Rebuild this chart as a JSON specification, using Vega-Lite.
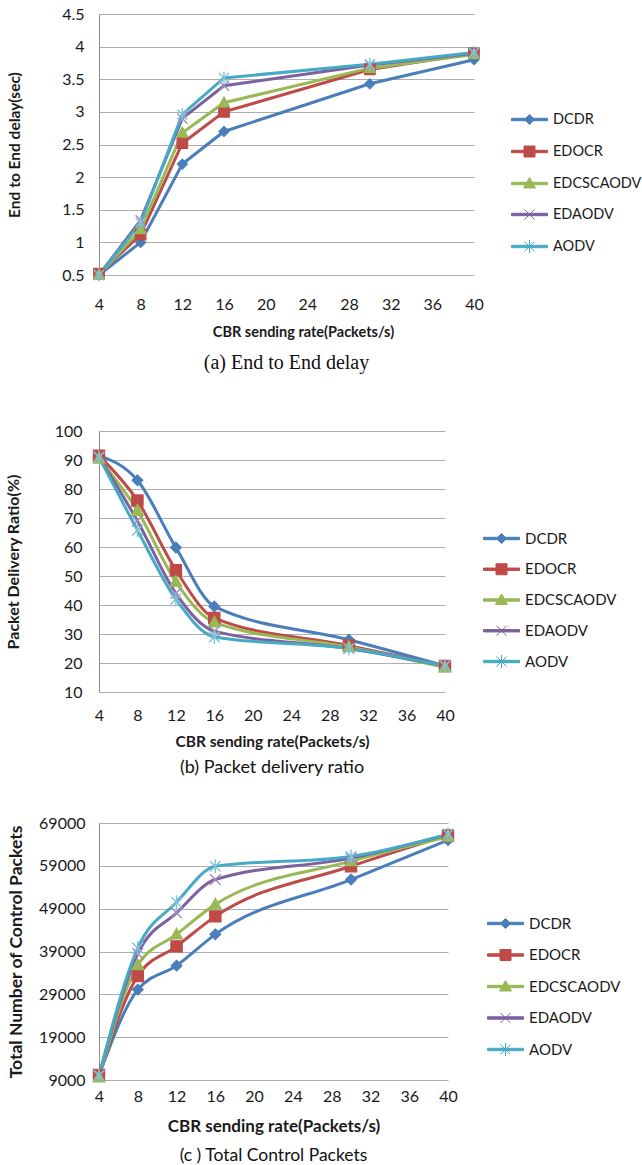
{
  "$schema": "https://vega.github.io/schema/vega-lite/v6.json",
  "background": "white",
  "padding": {"left": 5, "top": 6, "right": 0, "bottom": 0},
  "spacing": 38,
  "config": {
    "view": {"stroke": null},
    "font": "Lato",
    "axis": {"labelFont": "Lato", "titleFont": "Lato", "labelColor": "#1a1a1a", "titleColor": "#1a1a1a", "labelFontSize": 16, "ticks": false, "tickSize": 0, "titleFontWeight": "bold"},
    "legend": {"labelFont": "Lato", "labelColor": "#1a1a1a", "padding": 0, "symbolSize": 400, "title": null}
  },
  "resolve": {
    "scale": {"color": "independent"},
    "legend": {"color": "independent"}
  },
  "datasets": {
    "delay": [
      {"rate": 4, "series": "DCDR", "value": 0.5}, {"rate": 8, "series": "DCDR", "value": 1.0}, {"rate": 12, "series": "DCDR", "value": 2.2}, {"rate": 16, "series": "DCDR", "value": 2.7}, {"rate": 30, "series": "DCDR", "value": 3.43}, {"rate": 40, "series": "DCDR", "value": 3.8},
      {"rate": 4, "series": "EDOCR", "value": 0.52}, {"rate": 8, "series": "EDOCR", "value": 1.12}, {"rate": 12, "series": "EDOCR", "value": 2.52}, {"rate": 16, "series": "EDOCR", "value": 3.0}, {"rate": 30, "series": "EDOCR", "value": 3.65}, {"rate": 40, "series": "EDOCR", "value": 3.9},
      {"rate": 4, "series": "EDCSCAODV", "value": 0.5}, {"rate": 8, "series": "EDCSCAODV", "value": 1.2}, {"rate": 12, "series": "EDCSCAODV", "value": 2.68}, {"rate": 16, "series": "EDCSCAODV", "value": 3.14}, {"rate": 30, "series": "EDCSCAODV", "value": 3.67}, {"rate": 40, "series": "EDCSCAODV", "value": 3.88},
      {"rate": 4, "series": "EDAODV", "value": 0.5}, {"rate": 8, "series": "EDAODV", "value": 1.34}, {"rate": 12, "series": "EDAODV", "value": 2.9}, {"rate": 16, "series": "EDAODV", "value": 3.4}, {"rate": 30, "series": "EDAODV", "value": 3.72}, {"rate": 40, "series": "EDAODV", "value": 3.9},
      {"rate": 4, "series": "AODV", "value": 0.5}, {"rate": 8, "series": "AODV", "value": 1.3}, {"rate": 12, "series": "AODV", "value": 2.96}, {"rate": 16, "series": "AODV", "value": 3.52}, {"rate": 30, "series": "AODV", "value": 3.73}, {"rate": 40, "series": "AODV", "value": 3.91}
    ],
    "pdr": [
      {"rate": 4, "series": "DCDR", "value": 91.5}, {"rate": 8, "series": "DCDR", "value": 83}, {"rate": 12, "series": "DCDR", "value": 59.8}, {"rate": 16, "series": "DCDR", "value": 39.5}, {"rate": 30, "series": "DCDR", "value": 28}, {"rate": 40, "series": "DCDR", "value": 19},
      {"rate": 4, "series": "EDOCR", "value": 91.5}, {"rate": 8, "series": "EDOCR", "value": 76}, {"rate": 12, "series": "EDOCR", "value": 52}, {"rate": 16, "series": "EDOCR", "value": 35.5}, {"rate": 30, "series": "EDOCR", "value": 26}, {"rate": 40, "series": "EDOCR", "value": 19},
      {"rate": 4, "series": "EDCSCAODV", "value": 90.5}, {"rate": 8, "series": "EDCSCAODV", "value": 72.5}, {"rate": 12, "series": "EDCSCAODV", "value": 48}, {"rate": 16, "series": "EDCSCAODV", "value": 34}, {"rate": 30, "series": "EDCSCAODV", "value": 25.5}, {"rate": 40, "series": "EDCSCAODV", "value": 18.5},
      {"rate": 4, "series": "EDAODV", "value": 91}, {"rate": 8, "series": "EDAODV", "value": 69}, {"rate": 12, "series": "EDAODV", "value": 44}, {"rate": 16, "series": "EDAODV", "value": 31}, {"rate": 30, "series": "EDAODV", "value": 25}, {"rate": 40, "series": "EDAODV", "value": 19},
      {"rate": 4, "series": "AODV", "value": 91}, {"rate": 8, "series": "AODV", "value": 65.8}, {"rate": 12, "series": "AODV", "value": 42}, {"rate": 16, "series": "AODV", "value": 29}, {"rate": 30, "series": "AODV", "value": 25}, {"rate": 40, "series": "AODV", "value": 19}
    ],
    "ctrl": [
      {"rate": 4, "series": "DCDR", "value": 10000}, {"rate": 8, "series": "DCDR", "value": 30100}, {"rate": 12, "series": "DCDR", "value": 35700}, {"rate": 16, "series": "DCDR", "value": 43000}, {"rate": 30, "series": "DCDR", "value": 55800}, {"rate": 40, "series": "DCDR", "value": 65000},
      {"rate": 4, "series": "EDOCR", "value": 10200}, {"rate": 8, "series": "EDOCR", "value": 33300}, {"rate": 12, "series": "EDOCR", "value": 40200}, {"rate": 16, "series": "EDOCR", "value": 47200}, {"rate": 30, "series": "EDOCR", "value": 58900}, {"rate": 40, "series": "EDOCR", "value": 66100},
      {"rate": 4, "series": "EDCSCAODV", "value": 9600}, {"rate": 8, "series": "EDCSCAODV", "value": 35800}, {"rate": 12, "series": "EDCSCAODV", "value": 43000}, {"rate": 16, "series": "EDCSCAODV", "value": 50000}, {"rate": 30, "series": "EDCSCAODV", "value": 60100}, {"rate": 40, "series": "EDCSCAODV", "value": 65800},
      {"rate": 4, "series": "EDAODV", "value": 10000}, {"rate": 8, "series": "EDAODV", "value": 38500}, {"rate": 12, "series": "EDAODV", "value": 48000}, {"rate": 16, "series": "EDAODV", "value": 55800}, {"rate": 30, "series": "EDAODV", "value": 60800}, {"rate": 40, "series": "EDAODV", "value": 66300},
      {"rate": 4, "series": "AODV", "value": 10000}, {"rate": 8, "series": "AODV", "value": 39800}, {"rate": 12, "series": "AODV", "value": 50500}, {"rate": 16, "series": "AODV", "value": 58900}, {"rate": 30, "series": "AODV", "value": 61200}, {"rate": 40, "series": "AODV", "value": 66400}
    ]
  },
  "vconcat": [
    {
      "width": 375,
      "height": 261,
      "data": {"name": "delay"},
      "title": {"text": "(a) End to End delay", "orient": "bottom", "anchor": "middle", "font": "Liberation Serif", "fontSize": 20, "fontWeight": "normal", "color": "#111111", "offset": 14, "subtitle": " ", "subtitleFontSize": 10, "subtitlePadding": 2},
      "encoding": {
        "x": {"field": "rate", "type": "quantitative", "scale": {"domain": [4, 40], "nice": false, "zero": false},
          "axis": {"values": [4, 8, 12, 16, 20, 24, 28, 32, 36, 40], "title": "CBR sending rate(Packets/s)", "grid": false, "domain": false, "labelPadding": 21, "titlePadding": 13, "titleFontSize": 14.5, "titleX": 204, "labelFlush": false}},
        "y": {"field": "value", "type": "quantitative", "scale": {"domain": [0.5, 4.5], "nice": false, "zero": false},
          "axis": {"values": [0.5, 1, 1.5, 2, 2.5, 3, 3.5, 4, 4.5], "format": "~g", "title": "End to End delay(sec)", "grid": true, "gridColor": "#ADADAD", "domain": true, "domainColor": "#8C8C8C", "labelPadding": 15, "titlePadding": 39, "titleFontSize": 15.5}}
      },
      "layer": [
        {"mark": {"type": "line", "strokeWidth": 3, "interpolate": "linear"},
          "encoding": {"color": {"field": "series", "type": "nominal",
            "scale": {"domain": ["DCDR", "EDOCR", "EDCSCAODV", "EDAODV", "AODV"], "range": ["#4A7EBB", "#BE4B48", "#98B954", "#7D60A0", "#46AAC5"]},
            "legend": {"orient": "none", "legendX": 420, "legendY": 95, "labelFontSize": 14.5, "labelOffset": 13, "rowPadding": 14, "symbolSize": 400,
              "encode": {"symbols": {"update": {
                "shape": {"signal": "datum.value === 'DCDR' ? 'M-1.8,-0.12H1.8V0.12H-1.8Z M0,-0.5L0.5,0L0,0.5L-0.5,0Z' : datum.value === 'EDOCR' ? 'M-1.8,-0.12H1.8V0.12H-1.8Z M-0.55,-0.55H0.55V0.55H-0.55Z' : datum.value === 'EDCSCAODV' ? 'M-1.8,-0.12H1.8V0.12H-1.8Z M0,-0.6L0.6,0.45H-0.6Z' : datum.value === 'EDAODV' ? 'M-1.8,-0.12H1.8V0.12H-1.8Z M-0.5,-0.5L0.5,0.5M-0.5,0.5L0.5,-0.5' : 'M-1.8,-0.12H1.8V0.12H-1.8Z M-0.5,-0.5L0.5,0.5M-0.5,0.5L0.5,-0.5M0,-0.65V0.65'"},
                "fill": {"signal": "datum.value === 'DCDR' ? '#4A7EBB' : datum.value === 'EDOCR' ? '#BE4B48' : datum.value === 'EDCSCAODV' ? '#98B954' : datum.value === 'EDAODV' ? '#7D60A0' : '#46AAC5'"},
                "strokeWidth": {"value": 1},
                "opacity": {"value": 1}
              }}}}}}},
        {"transform": [{"filter": "datum.series === 'DCDR'"}], "mark": {"type": "point", "shape": "M0,-1L1,0L0,1L-1,0Z", "filled": true, "fill": "#4A7EBB", "stroke": "#4A7EBB", "strokeWidth": 1.2, "size": 100, "opacity": 1}},
        {"transform": [{"filter": "datum.series === 'EDOCR'"}], "mark": {"type": "point", "shape": "M-1.05,-1.05H1.05V1.05H-1.05Z", "filled": true, "fill": "#BE4B48", "stroke": "#BE4B48", "strokeWidth": 1.2, "size": 100, "opacity": 1}},
        {"transform": [{"filter": "datum.series === 'EDCSCAODV'"}], "mark": {"type": "point", "shape": "M0,-1.15L1.1,0.85H-1.1Z", "filled": true, "fill": "#98B954", "stroke": "#98B954", "strokeWidth": 1.2, "size": 100, "opacity": 1}},
        {"transform": [{"filter": "datum.series === 'EDAODV'"}], "mark": {"type": "point", "shape": "M-1,-1L1,1M-1,1L1,-1", "filled": false, "fill": null, "stroke": "#A08CC0", "strokeWidth": 1.4, "size": 100, "opacity": 1}},
        {"transform": [{"filter": "datum.series === 'AODV'"}], "mark": {"type": "point", "shape": "M-1,-1L1,1M-1,1L1,-1M0,-1.3V1.3", "filled": false, "fill": null, "stroke": "#7FC3D8", "strokeWidth": 1.4, "size": 100, "opacity": 1}}
      ]
    },
    {
      "width": 346,
      "height": 261,
      "data": {"name": "pdr"},
      "title": {"text": "(b) Packet delivery ratio", "orient": "bottom", "anchor": "middle", "font": "Lato", "fontSize": 18, "fontWeight": "normal", "color": "#111111", "offset": 9},
      "encoding": {
        "x": {"field": "rate", "type": "quantitative", "scale": {"domain": [4, 40], "nice": false, "zero": false},
          "axis": {"values": [4, 8, 12, 16, 20, 24, 28, 32, 36, 40], "title": "CBR sending rate(Packets/s)", "grid": false, "domain": false, "labelPadding": 15, "titlePadding": 11, "titleFontSize": 15.5, "labelFlush": false}},
        "y": {"field": "value", "type": "quantitative", "scale": {"domain": [10, 100], "nice": false, "zero": false},
          "axis": {"values": [10, 20, 30, 40, 50, 60, 70, 80, 90, 100], "title": "Packet Delivery Ratio(%)", "grid": true, "gridColor": "#ADADAD", "domain": true, "domainColor": "#8C8C8C", "labelPadding": 17, "titlePadding": 33, "titleFontSize": 16}}
      },
      "layer": [
        {"mark": {"type": "line", "strokeWidth": 3, "interpolate": "monotone"},
          "encoding": {"color": {"field": "series", "type": "nominal",
            "scale": {"domain": ["DCDR", "EDOCR", "EDCSCAODV", "EDAODV", "AODV"], "range": ["#4A7EBB", "#BE4B48", "#98B954", "#7D60A0", "#46AAC5"]},
            "legend": {"orient": "none", "legendX": 392, "legendY": 97, "labelFontSize": 15, "labelOffset": 13, "rowPadding": 11.75, "symbolSize": 400,
              "encode": {"symbols": {"update": {
                "shape": {"signal": "datum.value === 'DCDR' ? 'M-1.8,-0.12H1.8V0.12H-1.8Z M0,-0.5L0.5,0L0,0.5L-0.5,0Z' : datum.value === 'EDOCR' ? 'M-1.8,-0.12H1.8V0.12H-1.8Z M-0.55,-0.55H0.55V0.55H-0.55Z' : datum.value === 'EDCSCAODV' ? 'M-1.8,-0.12H1.8V0.12H-1.8Z M0,-0.6L0.6,0.45H-0.6Z' : datum.value === 'EDAODV' ? 'M-1.8,-0.12H1.8V0.12H-1.8Z M-0.5,-0.5L0.5,0.5M-0.5,0.5L0.5,-0.5' : 'M-1.8,-0.12H1.8V0.12H-1.8Z M-0.5,-0.5L0.5,0.5M-0.5,0.5L0.5,-0.5M0,-0.65V0.65'"},
                "fill": {"signal": "datum.value === 'DCDR' ? '#4A7EBB' : datum.value === 'EDOCR' ? '#BE4B48' : datum.value === 'EDCSCAODV' ? '#98B954' : datum.value === 'EDAODV' ? '#7D60A0' : '#46AAC5'"},
                "strokeWidth": {"value": 1},
                "opacity": {"value": 1}
              }}}}}}},
        {"transform": [{"filter": "datum.series === 'DCDR'"}], "mark": {"type": "point", "shape": "M0,-1L1,0L0,1L-1,0Z", "filled": true, "fill": "#4A7EBB", "stroke": "#4A7EBB", "strokeWidth": 1.2, "size": 115, "opacity": 1}},
        {"transform": [{"filter": "datum.series === 'EDOCR'"}], "mark": {"type": "point", "shape": "M-1.05,-1.05H1.05V1.05H-1.05Z", "filled": true, "fill": "#BE4B48", "stroke": "#BE4B48", "strokeWidth": 1.2, "size": 115, "opacity": 1}},
        {"transform": [{"filter": "datum.series === 'EDCSCAODV'"}], "mark": {"type": "point", "shape": "M0,-1.15L1.1,0.85H-1.1Z", "filled": true, "fill": "#98B954", "stroke": "#98B954", "strokeWidth": 1.2, "size": 115, "opacity": 1}},
        {"transform": [{"filter": "datum.series === 'EDAODV'"}], "mark": {"type": "point", "shape": "M-1,-1L1,1M-1,1L1,-1", "filled": false, "fill": null, "stroke": "#A08CC0", "strokeWidth": 1.4, "size": 115, "opacity": 1}},
        {"transform": [{"filter": "datum.series === 'AODV'"}], "mark": {"type": "point", "shape": "M-1,-1L1,1M-1,1L1,-1M0,-1.3V1.3", "filled": false, "fill": null, "stroke": "#7FC3D8", "strokeWidth": 1.4, "size": 115, "opacity": 1}}
      ]
    },
    {
      "width": 349,
      "height": 257,
      "data": {"name": "ctrl"},
      "title": {"text": "(c ) Total Control Packets", "orient": "bottom", "anchor": "middle", "font": "Lato", "fontSize": 17.5, "fontWeight": "normal", "color": "#111111", "offset": 13},
      "encoding": {
        "x": {"field": "rate", "type": "quantitative", "scale": {"domain": [4, 40], "nice": false, "zero": false},
          "axis": {"values": [4, 8, 12, 16, 20, 24, 28, 32, 36, 40], "title": "CBR sending rate(Packets/s)", "grid": false, "domain": false, "labelPadding": 8, "titlePadding": 14, "titleFontSize": 17, "labelFlush": false}},
        "y": {"field": "value", "type": "quantitative", "scale": {"domain": [9000, 69000], "nice": false, "zero": false},
          "axis": {"values": [9000, 19000, 29000, 39000, 49000, 59000, 69000], "format": "d", "title": "Total Number of Control Packets", "grid": true, "gridColor": "#ADADAD", "domain": true, "domainColor": "#8C8C8C", "labelPadding": 14, "titlePadding": 13, "titleFontSize": 17.5}}
      },
      "layer": [
        {"mark": {"type": "line", "strokeWidth": 3, "interpolate": "monotone"},
          "encoding": {"color": {"field": "series", "type": "nominal",
            "scale": {"domain": ["DCDR", "EDOCR", "EDCSCAODV", "EDAODV", "AODV"], "range": ["#4A7EBB", "#BE4B48", "#98B954", "#7D60A0", "#46AAC5"]},
            "legend": {"orient": "none", "legendX": 396, "legendY": 90, "labelFontSize": 15, "labelOffset": 13, "rowPadding": 12.5, "symbolSize": 400,
              "encode": {"symbols": {"update": {
                "shape": {"signal": "datum.value === 'DCDR' ? 'M-1.8,-0.12H1.8V0.12H-1.8Z M0,-0.5L0.5,0L0,0.5L-0.5,0Z' : datum.value === 'EDOCR' ? 'M-1.8,-0.12H1.8V0.12H-1.8Z M-0.55,-0.55H0.55V0.55H-0.55Z' : datum.value === 'EDCSCAODV' ? 'M-1.8,-0.12H1.8V0.12H-1.8Z M0,-0.6L0.6,0.45H-0.6Z' : datum.value === 'EDAODV' ? 'M-1.8,-0.12H1.8V0.12H-1.8Z M-0.5,-0.5L0.5,0.5M-0.5,0.5L0.5,-0.5' : 'M-1.8,-0.12H1.8V0.12H-1.8Z M-0.5,-0.5L0.5,0.5M-0.5,0.5L0.5,-0.5M0,-0.65V0.65'"},
                "fill": {"signal": "datum.value === 'DCDR' ? '#4A7EBB' : datum.value === 'EDOCR' ? '#BE4B48' : datum.value === 'EDCSCAODV' ? '#98B954' : datum.value === 'EDAODV' ? '#7D60A0' : '#46AAC5'"},
                "strokeWidth": {"value": 1},
                "opacity": {"value": 1}
              }}}}}}},
        {"transform": [{"filter": "datum.series === 'DCDR'"}], "mark": {"type": "point", "shape": "M0,-1L1,0L0,1L-1,0Z", "filled": true, "fill": "#4A7EBB", "stroke": "#4A7EBB", "strokeWidth": 1.2, "size": 115, "opacity": 1}},
        {"transform": [{"filter": "datum.series === 'EDOCR'"}], "mark": {"type": "point", "shape": "M-1.05,-1.05H1.05V1.05H-1.05Z", "filled": true, "fill": "#BE4B48", "stroke": "#BE4B48", "strokeWidth": 1.2, "size": 115, "opacity": 1}},
        {"transform": [{"filter": "datum.series === 'EDCSCAODV'"}], "mark": {"type": "point", "shape": "M0,-1.15L1.1,0.85H-1.1Z", "filled": true, "fill": "#98B954", "stroke": "#98B954", "strokeWidth": 1.2, "size": 115, "opacity": 1}},
        {"transform": [{"filter": "datum.series === 'EDAODV'"}], "mark": {"type": "point", "shape": "M-1,-1L1,1M-1,1L1,-1", "filled": false, "fill": null, "stroke": "#A08CC0", "strokeWidth": 1.4, "size": 115, "opacity": 1}},
        {"transform": [{"filter": "datum.series === 'AODV'"}], "mark": {"type": "point", "shape": "M-1,-1L1,1M-1,1L1,-1M0,-1.3V1.3", "filled": false, "fill": null, "stroke": "#7FC3D8", "strokeWidth": 1.4, "size": 115, "opacity": 1}}
      ]
    }
  ]
}
